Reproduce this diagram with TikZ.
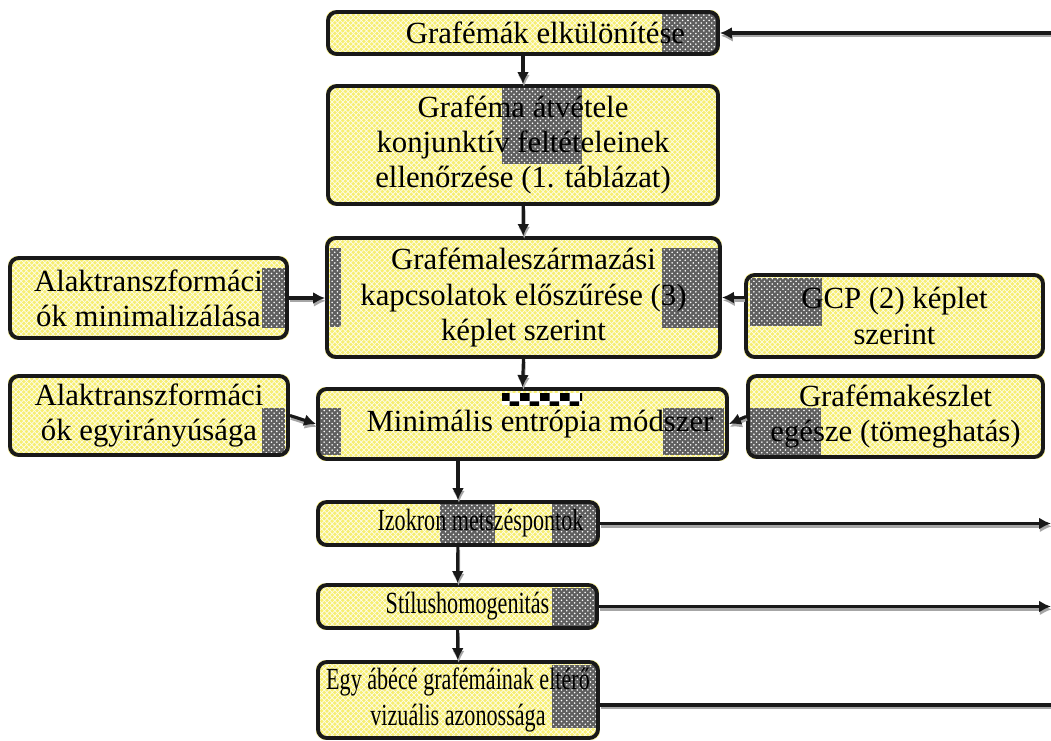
\documentclass[tikz,border=0pt]{standalone}
\usepackage{fontspec}
\setmainfont{Liberation Serif}
\newfontfamily\narrowfont{Liberation Serif}[FakeStretch=0.72]
\usetikzlibrary{arrows.meta,patterns,backgrounds}

\definecolor{lemon}{RGB}{246,238,112}
\definecolor{spotgray}{RGB}{95,95,95}

\tikzset{
        stage/.style = {rectangle,rounded corners=5pt,draw=black!90,line width=2.2pt,align=center,inner sep=1pt},
        narrow/.style = {font=\fontsize{17.5}{20}\narrowfont},
        lemonfill/.style = {preaction={fill=lemon},pattern=crosshatch,pattern color=white!85!lemon},
        spot/.style = {preaction={fill=spotgray},pattern=crosshatch dots,pattern color=white},
        arr/.style = {-{Latex[length=2.4mm,width=2.4mm]},line width=1.8pt,draw=black!90,
            preaction={draw=black!35,line width=1.6pt,transform canvas={shift={(0.5pt,-1.6pt)}}}},
        link/.style = {line width=1.8pt,draw=black!90,
            preaction={draw=black!35,line width=1.6pt,transform canvas={shift={(0.5pt,-1.6pt)}}}}
    }

\begin{document}
\begin{tikzpicture}[x=1cm,y=1cm,every node/.style={font=\fontsize{17.5}{20}\selectfont}]
            \useasboundingbox (0,0) rectangle (21.02,-14.8);

            % main column
            \node[stage,minimum width=7.8cm,minimum height=0.84cm] (b1) at (10.46,-0.66) {\hspace*{0.9cm}Grafémák elkülönítése};
            \node[stage,minimum width=7.8cm,minimum height=2.36cm] (b2) at (10.46,-2.9) {Graféma átvétele\\konjunktív feltételeinek\\ellenőrzése (1. táblázat)};
            \node[stage,minimum width=7.86cm,minimum height=2.38cm] (b3) at (10.47,-5.95) {Grafémaleszármazási\\kapcsolatok előszűrése (3)\\képlet szerint};
            \node[stage,minimum width=8.18cm,minimum height=1.4cm] (b6) at (10.45,-8.48) {\hspace*{0.7cm}Minimális entrópia módszer};
            \node[stage,narrow,minimum width=5.6cm,minimum height=0.86cm] (b9) at (9.16,-10.47) {\hspace*{0.9cm}Izokron metszéspontok};
            \node[stage,narrow,minimum width=5.58cm,minimum height=0.86cm] (b10) at (9.15,-12.13) {\hspace*{0.4cm}Stílushomogenitás};
            \node[stage,narrow,minimum width=5.6cm,minimum height=1.52cm] (b11) at (9.16,-14.0) {Egy ábécé grafémáinak eltérő\\vizuális azonossága};

            % side boxes
            \node[stage,minimum width=5.54cm,minimum height=1.6cm] (l1) at (2.97,-5.96) {Alaktranszformáci\\ók minimalizálása};
            \node[stage,minimum width=5.56cm,minimum height=1.58cm] (l2) at (2.98,-8.31) {Alaktranszformáci\\ók egyirányúsága};
            \node[stage,minimum width=5.94cm,minimum height=1.64cm] (r1) at (17.89,-6.32) {GCP (2) képlet\\szerint};
            \node[stage,minimum width=5.9cm,minimum height=1.62cm] (r2) at (17.91,-8.33) {Grafémakészlet\\egésze (tömeghatás)};

            \coordinate (e0) at (21.02,-0.66);
            \coordinate (e9) at (21.02,-10.47);
            \coordinate (e10) at (21.02,-12.13);
            \coordinate (e11) at (21.02,-14.1);

            \begin{pgfonlayer}{background}
                \foreach \n in {b1,b2,b3,b6,b9,b10,b11,l1,l2,r1,r2}
                    \fill[lemonfill,rounded corners=5pt] (\n.south west) rectangle (\n.north east);
                \fill[spot] (13.24,-0.28) rectangle (14.36,-1.04);
                \fill[spot] (10.04,-1.76) rectangle (11.64,-3.28);
                \fill[spot] (6.6,-4.96) rectangle (6.82,-6.54);
                \fill[spot] (13.24,-4.96) rectangle (14.36,-6.56);
                \fill[spot] (5.24,-5.36) rectangle (5.7,-6.56);
                \fill[spot] (15.0,-5.56) rectangle (16.44,-6.52);
                \fill[spot] (6.4,-8.16) rectangle (6.82,-9.1);
                \fill[spot] (13.26,-8.16) rectangle (14.48,-9.1);
                \fill[preaction={fill=white},pattern=checkerboard] (10.04,-7.86) rectangle (11.64,-8.1);
                \fill[spot] (5.24,-8.16) rectangle (5.7,-9.06);
                \fill[spot] (15.0,-8.16) rectangle (16.42,-9.1);
                \fill[spot] (8.8,-10.08) rectangle (9.9,-10.86);
                \fill[spot] (11.04,-10.08) rectangle (11.92,-10.86);
                \fill[spot] (11.04,-11.76) rectangle (11.9,-12.52);
                \fill[spot] (11.04,-13.3) rectangle (11.92,-14.56);
            \end{pgfonlayer}

            % connectors
            \draw[arr] (e0) -- (b1.east);
            \draw[arr] (b1) -- (b2);
            \draw[arr] (b2) -- (b3);
            \draw[arr] (b3.south) -- (b6.north);
            \draw[arr] (b9.north |- b6.south) -- (b9.north);
            \draw[arr] (b9) -- (b10);
            \draw[arr] (b10) -- (b11);
            \draw[arr] (l1.east) -- (l1.east -| b3.west);
            \draw[arr] (r1.west |- b3.east) -- (b3.east);
            \draw[arr] (l2.east) -- (b6.west);
            \draw[arr] (r2.west) -- (b6.east);
            \draw[arr] (b9.east) -- (e9);
            \draw[arr] (b10.east) -- (e10);
            \draw[link] (b11.east |- e11) -- (e11);
        \end{tikzpicture}
\end{document}
